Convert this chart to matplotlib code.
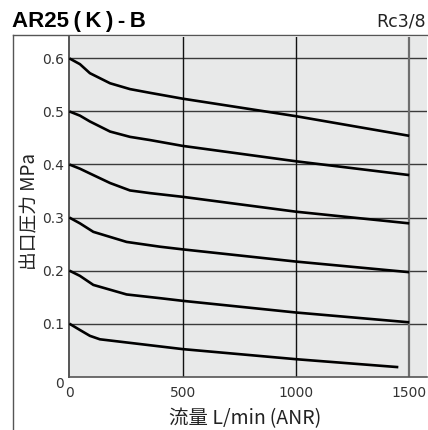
import matplotlib
matplotlib.use("Agg")
import matplotlib.pyplot as plt
from matplotlib.lines import Line2D

# flow L/min (ANR) vs outlet pressure MPa, one curve per set pressure
flow_06 = [0, 47, 91, 180, 268, 356, 500, 1000, 1500]
pres_06 = [0.6, 0.589, 0.572, 0.553, 0.542, 0.535, 0.524, 0.491, 0.454]

flow_05 = [0, 47, 91, 180, 268, 356, 500, 1000, 1500]
pres_05 = [0.5, 0.492, 0.481, 0.462, 0.452, 0.446, 0.435, 0.406, 0.380]

flow_04 = [0, 47, 91, 180, 268, 356, 500, 1000, 1500]
pres_04 = [0.4, 0.392, 0.383, 0.365, 0.351, 0.346, 0.339, 0.311, 0.289]

flow_03 = [0, 47, 106, 253, 400, 500, 1000, 1500]
pres_03 = [0.3, 0.289, 0.273, 0.254, 0.245, 0.240, 0.217, 0.197]

flow_02 = [0, 47, 106, 253, 400, 500, 1000, 1500]
pres_02 = [0.2, 0.190, 0.173, 0.155, 0.148, 0.143, 0.121, 0.1025]

flow_01 = [0, 47, 91, 135, 500, 1000, 1452]
pres_01 = [0.1, 0.088, 0.077, 0.0705, 0.052, 0.033, 0.018]

curves = [(flow_06, pres_06), (flow_05, pres_05), (flow_04, pres_04),
          (flow_03, pres_03), (flow_02, pres_02), (flow_01, pres_01)]

x_ticks = [0, 500, 1000, 1500]
y_ticks = [0, 0.1, 0.2, 0.3, 0.4, 0.5, 0.6]
y_tick_labels = ['0', '0.1', '0.2', '0.3', '0.4', '0.5', '0.6']

title = 'AR25\u2009(\u2009K\u2009)\u2009-\u2009B'
port = 'Rc3/8'
x_label = '流量 L/min\u2009(ANR)'
y_label = '出口圧力 MPa'

cjk = ['Noto Sans CJK JP', 'DejaVu Sans']

W, H = 428, 430
fig = plt.figure(figsize=(W / 100, H / 100), dpi=100)
fig.patch.set_facecolor('white')

left, right, top, bottom = 69.3, 427.5, 37, 376.7
ax = fig.add_axes([left / W, 1 - bottom / H, (right - left) / W, (bottom - top) / H])
ax.set_facecolor('#e8e9e9')
ax.set_xlim(0, (right - left) / 113.3 * 500)
ax.set_ylim(0, (bottom - top) / 530.6)

# grid
for yv in y_ticks[1:]:
    ax.axhline(yv, color='#3a3a3a', lw=1.0, zorder=1)
for xv in x_ticks[1:3]:
    ax.axvline(xv, color='#111111', lw=1.0, zorder=1)
ax.axvline(x_ticks[-1], color='#6e6e6e', lw=1.6, zorder=1)

for fx, py in curves:
    ax.plot(fx, py, color='black', lw=1.9, solid_capstyle='butt', zorder=3)

for s in ['top', 'right']:
    ax.spines[s].set_visible(False)
ax.spines['left'].set_color('#555555')
ax.spines['left'].set_linewidth(1.4)
ax.spines['bottom'].set_color('#555555')
ax.spines['bottom'].set_linewidth(1.2)

ax.set_xticks(x_ticks)
ax.set_xticklabels([str(v) for v in x_ticks])
ax.set_yticks(y_ticks)
ax.set_yticklabels(y_tick_labels)
ax.tick_params(length=0, labelsize=10, labelcolor='#333333')
ax.tick_params(axis='x', pad=7)
ax.tick_params(axis='y', pad=4)
ax.get_yticklabels()[0].set_verticalalignment('top')

ax.set_xlabel(x_label, fontsize=14, family=cjk, color='#222222')
ax.xaxis.set_label_coords(0.49, -0.093)
ax.set_ylabel(y_label, fontsize=13.5, family=cjk, color='#222222')
ax.yaxis.set_label_coords(-0.082, 0.486)

# outer frame
fig.add_artist(Line2D([12.5 / W, 12.5 / W], [0, 1 - 35 / H], color='#555555', lw=1.0))
fig.add_artist(Line2D([12.5 / W, 1], [1 - 35 / H, 1 - 35 / H], color='#555555', lw=1.0))

fig.text(12 / W, 1 - 21 / H, title, fontsize=16, fontweight='bold',
         family=['Liberation Sans', 'DejaVu Sans'], va='center', ha='left')
fig.text(426 / W, 1 - 22 / H, port, fontsize=12.5, va='center', ha='right', color='#222222')

fig.savefig('out.png', dpi=100)
